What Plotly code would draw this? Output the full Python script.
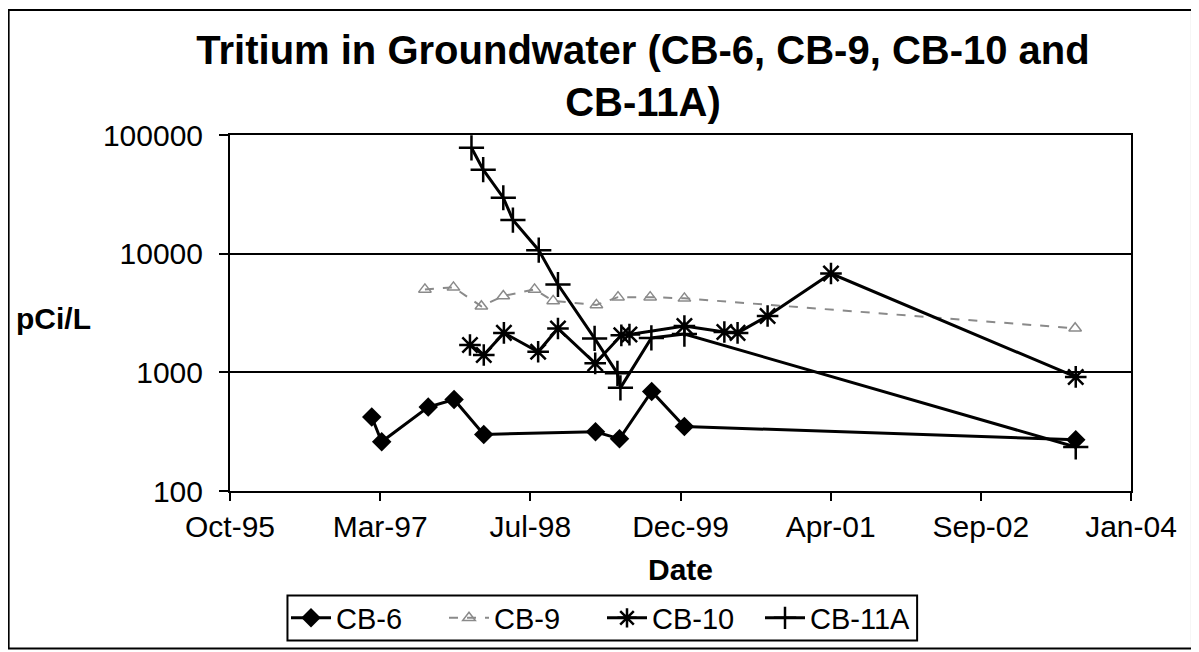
import plotly.graph_objects as go

# ---------------- data ----------------
cb6_dates = ["1997-02-11", "1997-03-16", "1997-08-18", "1997-11-12", "1998-02-19",
             "1999-02-26", "1999-05-17", "1999-09-01", "1999-12-19", "2003-07-14"]
cb6_vals = [420, 260, 510, 590, 300, 315, 275, 690, 350, 270]

cb9_dates = ["1997-08-07", "1997-11-10", "1998-02-11", "1998-04-25", "1998-08-07",
             "1998-10-08", "1999-03-01", "1999-05-12", "1999-08-27", "1999-12-19",
             "2003-07-12"]
cb9_vals = [5000, 5200, 3600, 4400, 5000, 4000, 3700, 4300, 4300, 4200, 2350]

cb10_dates = ["1998-01-04", "1998-02-19", "1998-04-27", "1998-08-19", "1998-10-24",
              "1999-02-25", "1999-05-23", "1999-06-19", "1999-12-19", "2000-04-30",
              "2000-06-13", "2000-09-21", "2001-04-20", "2003-07-14"]
cb10_vals = [1700, 1400, 2150, 1490, 2340, 1190, 2050, 2080, 2460, 2190, 2150, 2980,
             6800, 915]

cb11a_dates = ["1998-01-09", "1998-02-17", "1998-04-25", "1998-05-27", "1998-08-21",
               "1998-10-24", "1999-02-23", "1999-05-10", "1999-05-20", "1999-08-31",
               "1999-12-19", "2003-07-14"]
cb11a_vals = [78000, 51000, 29600, 19200, 10700, 5500, 1930, 980, 740, 1950, 2100, 235]

x_tick_vals = ["1995-10-28", "1997-03-11", "1998-07-24", "1999-12-06",
               "2001-04-19", "2002-09-01", "2004-01-14"]
x_tick_text = ["Oct-95", "Mar-97", "Jul-98", "Dec-99", "Apr-01", "Sep-02", "Jan-04"]
y_tick_vals = [100, 1000, 10000, 100000]
y_tick_text = ["100", "1000", "10000", "100000"]

title_text = "Tritium in Groundwater (CB-6, CB-9, CB-10 and<br>CB-11A)"

FONT = "Liberation Sans, Arial, sans-serif"

fig = go.Figure()
fig.add_trace(go.Scatter(
    x=cb6_dates, y=cb6_vals, name="CB-6", mode="lines+markers",
    line=dict(color="black", width=3),
    marker=dict(symbol="diamond", size=15, color="black")))
fig.add_trace(go.Scatter(
    x=cb9_dates, y=cb9_vals, name="CB-9", mode="lines+markers",
    line=dict(color="#8a8a8a", width=2, dash="dash"),
    marker=dict(symbol="triangle-up-open", size=11, color="#8a8a8a",
                line=dict(color="#8a8a8a", width=1.5))))
fig.add_trace(go.Scatter(
    x=cb10_dates, y=cb10_vals, name="CB-10", mode="lines+markers",
    line=dict(color="black", width=3),
    marker=dict(symbol="asterisk-open", size=18, color="black",
                line=dict(color="black", width=2.5))))
fig.add_trace(go.Scatter(
    x=cb11a_dates, y=cb11a_vals, name="CB-11A", mode="lines+markers",
    line=dict(color="black", width=3),
    marker=dict(symbol="cross-thin-open", size=18, color="black",
                line=dict(color="black", width=2.5))))

# The page body has an 8 px margin, so the figure sits at (8, 8) on screen.
OFF = 8
W, H = 1199 - OFF, 652 - OFF
SL, SR, ST, SB = 229.5, 1131.0, 135.0, 490.7   # plot area on screen
L, R, T, B = SL - OFF, W - (SR - OFF), ST - OFF, H - (SB - OFF)
pw = SR - SL
ph = SB - ST

def px_x(p):
    return (p - SL) / pw

def px_y(p):
    return (SB - p) / ph

fig.update_layout(
    width=W, height=H,
    margin=dict(l=L, r=R, t=T, b=B, pad=0, autoexpand=False),
    paper_bgcolor="white", plot_bgcolor="white",
    font=dict(family=FONT, size=30, color="black"),
    title=dict(text=title_text, x=(643 - OFF) / W, xanchor="center", xref="container",
               y=1 - 56 / H, yanchor="top", yref="container",
               font=dict(family=FONT, size=40, color="black", weight="bold")),
    showlegend=True,
    legend=dict(orientation="h", xref="container", yref="container",
                x=(602 - OFF) / W, xanchor="center",
                y=1 - (618 - OFF) / H, yanchor="middle",
                borderwidth=0, bgcolor="rgba(0,0,0,0)",
                font=dict(family=FONT, size=29, color="black"),
                itemwidth=40, tracegroupgap=0,
                entrywidth=103, entrywidthmode="pixels"),
    xaxis=dict(
        type="date", range=[x_tick_vals[0], x_tick_vals[-1]],
        tickmode="array", tickvals=x_tick_vals, ticktext=x_tick_text,
        ticks="outside", ticklen=8, tickwidth=1.5, tickcolor="black",
        showline=True, linecolor="black", linewidth=2, mirror=True,
        showgrid=False, zeroline=False,
        tickfont=dict(family=FONT, size=30, color="black"),
        title=dict(text="<b>Date</b>", standoff=17,
                   font=dict(family=FONT, size=30, color="black")),
    ),
    yaxis=dict(
        type="log", range=[2, 5],
        tickmode="array", tickvals=y_tick_vals, ticktext=y_tick_text,
        ticks="outside", ticklen=9, tickwidth=1.5, tickcolor="black",
        ticklabelstandoff=10,
        showline=True, linecolor="black", linewidth=2, mirror=True,
        showgrid=True, gridcolor="black", gridwidth=1.5, zeroline=False,
        tickfont=dict(family=FONT, size=30, color="black"),
    ),
    annotations=[dict(
        text="<b>pCi/L</b>", xref="paper", yref="paper",
        x=px_x(13), xanchor="left", y=px_y(318), yanchor="middle",
        showarrow=False, font=dict(family=FONT, size=30, color="black"))],
    shapes=[
        dict(type="rect", xref="paper", yref="paper",
             x0=px_x(8), x1=px_x(1192), y0=px_y(648), y1=px_y(10),
             line=dict(color="black", width=2), fillcolor="rgba(0,0,0,0)",
             layer="below"),
        # legend frame
        dict(type="rect", xref="paper", yref="paper",
             x0=px_x(287), x1=px_x(917), y0=px_y(640), y1=px_y(595),
             line=dict(color="black", width=2), fillcolor="rgba(0,0,0,0)",
             layer="below"),
    ],
)

fig.write_html("out.html")
